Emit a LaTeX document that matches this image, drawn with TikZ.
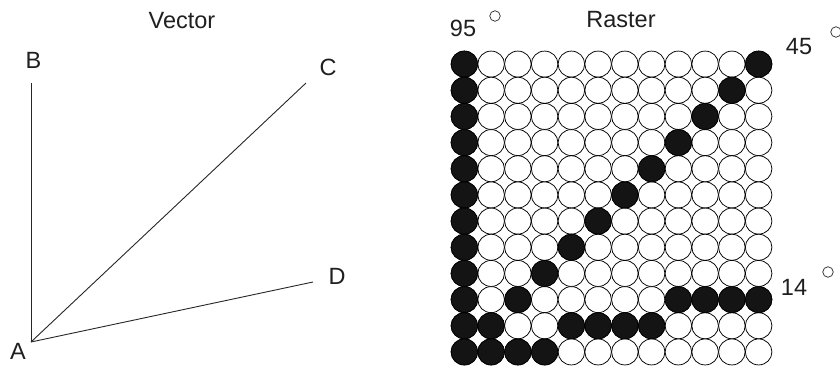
\documentclass[tikz,border=0pt]{standalone}
\usepackage{fontspec}
\setmainfont{Liberation Sans}
\begin{document}
\begin{tikzpicture}[x=1pt,y=-1pt,
  lbl/.style={inner sep=0pt,text=black!88,font=\fontsize{23.5}{28}\selectfont},
  vline/.style={line width=0.9pt,black!85},
  cellw/.style={draw=black,line width=0.75pt,fill=white},
  cellb/.style={draw=black,line width=0.75pt,fill=black!92},
  degree/.style={circle,draw=black!85,line width=0.7pt,minimum size=10.5pt,inner sep=0pt}]
\useasboundingbox (0,0) rectangle (840,366);
% Vector part
\coordinate (A) at (31,342);
\coordinate (B) at (31,83);
\coordinate (C) at (306,83);
\coordinate (D) at (313,282);
\draw[vline] (A) -- (B);
\draw[vline] (A) -- (C);
\draw[vline] (A) -- (D);
\node[lbl] (tvec) at (182,20.5) {Vector};
\node[lbl] (lA) at (18,351) {A};
\node[lbl] (lB) at (33.5,60.5) {B};
\node[lbl] (lC) at (328,67.5) {C};
\node[lbl] (lD) at (337,276.5) {D};
% Raster part
\node[lbl] (tras) at (621,19.5) {Raster};
\node[lbl] (l95) at (463,28.5) {95};
\node[degree] (d95) at (495,16) {};
\node[lbl] (l45) at (799,47) {45};
\node[degree] (d45) at (836,32) {};
\node[lbl] (l14) at (794,287) {14};
\node[degree] (d14) at (828,272) {};
\foreach \r in {1,...,12}{
  \foreach \c in {1,...,12}{
    \draw[cellw] ({451+26.75*(\c-0.5)},{51+26.17*(\r-0.5)}) ellipse [x radius=13.3,y radius=13.0];
  }
}
\foreach \r/\c in {1/1,1/12,2/1,2/11,3/1,3/10,4/1,4/9,5/1,5/8,6/1,6/7,7/1,7/6,8/1,8/5,9/1,9/4,
  10/1,10/3,10/9,10/10,10/11,10/12,11/1,11/2,11/5,11/6,11/7,11/8,12/1,12/2,12/3,12/4}{
  \draw[cellb] ({451+26.75*(\c-0.5)},{51+26.17*(\r-0.5)}) ellipse [x radius=13.3,y radius=13.0];
}
\end{tikzpicture}
\end{document}
